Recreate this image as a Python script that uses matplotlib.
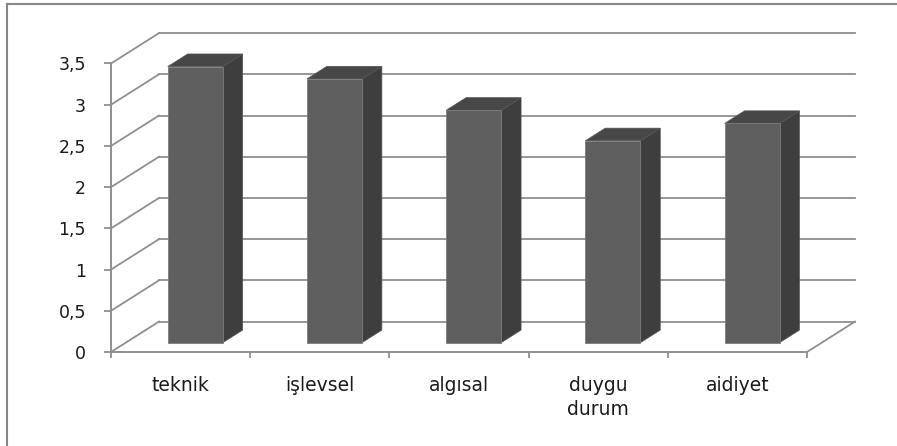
import numpy as np
import matplotlib
matplotlib.use("Agg")
import matplotlib.pyplot as plt
from matplotlib.patches import Polygon
from matplotlib.lines import Line2D

# veriler
categories = ["teknik", "işlevsel", "algısal", "duygu\ndurum", "aidiyet"]
values = [3.35, 3.20, 2.82, 2.45, 2.66]
yticks = [0, 0.5, 1, 1.5, 2, 2.5, 3, 3.5]
ytick_labels = ["0", "0,5", "1", "1,5", "2", "2,5", "3", "3,5"]

# 3B görünüm için eğik izdüşüm (veri birimleri)
DX = 0.345   # derinlik -> x kayması (kategori birimi)
DY = 0.369   # derinlik -> y kayması (değer birimi)
d0, d1 = 0.305, 0.72   # çubuğun ön / arka derinliği
bw = 0.395

grid_col = "#8f8f8f"
front_col = "#5f5f5f"
side_col = "#3e3e3e"
top_col = "#474747"

W, H = 897, 446
fig = plt.figure(figsize=(W / 100, H / 100), dpi=100)
ax = fig.add_axes([111 / W, (H - 352) / H, 696 / W, (352 - 63.5) / H])
n = len(categories)
ax.set_xlim(0, n)
ax.set_ylim(0, 3.5)

# arka duvar ve sol duvar ızgara çizgileri
for v in yticks:
    ax.plot([DX, n + DX], [v + DY, v + DY], color=grid_col, lw=1.3,
            clip_on=False, zorder=1)
    ax.plot([0, DX], [v, v + DY], color=grid_col, lw=1.3,
            clip_on=False, zorder=1)
# zemin sağ kenarı
ax.plot([n, n + DX], [0, DY], color=grid_col, lw=1.3, clip_on=False, zorder=1)

# çubuklar
centers = np.arange(n) + 0.5
ax.bar(centers + d0 * DX, values, width=bw, bottom=d0 * DY, color=front_col,
       edgecolor="#7c7c7c", linewidth=0.6, zorder=4, clip_on=False)
for c, v in zip(centers, values):
    xl = c - bw / 2 + d0 * DX
    xr = c + bw / 2 + d0 * DX
    yb = d0 * DY
    yt = v + d0 * DY
    ddx = (d1 - d0) * DX
    ddy = (d1 - d0) * DY
    side = Polygon([(xr, yb), (xr + ddx, yb + ddy), (xr + ddx, yt + ddy), (xr, yt)],
                   closed=True, facecolor=side_col, edgecolor="#555555",
                   linewidth=0.5, zorder=3, clip_on=False)
    top = Polygon([(xl, yt), (xr, yt), (xr + ddx, yt + ddy), (xl + ddx, yt + ddy)],
                  closed=True, facecolor=top_col, edgecolor="#555555",
                  linewidth=0.5, zorder=3, clip_on=False)
    ax.add_patch(side)
    ax.add_patch(top)

# eksenler
for s in ["top", "right"]:
    ax.spines[s].set_visible(False)
for s in ["left", "bottom"]:
    ax.spines[s].set_color(grid_col)
    ax.spines[s].set_linewidth(1.4)
    ax.spines[s].set_zorder(5)
ax.set_facecolor("none")

ax.set_yticks(yticks)
ax.set_yticklabels(ytick_labels)
ax.tick_params(axis="y", length=5, width=1.3, color=grid_col, pad=13,
               labelsize=12.5, labelcolor="#1a1a1a")

ax.set_xticks(np.arange(n + 1))
ax.set_xticklabels([])
ax.tick_params(axis="x", which="major", length=4, width=1.3, color=grid_col)
ax.set_xticks(centers, minor=True)
ax.set_xticklabels(categories, minor=True, linespacing=1.3)
ax.tick_params(axis="x", which="minor", length=0, pad=17.5, labelsize=13.5,
               labelcolor="#1a1a1a")

# dış çerçeve (üst ve sol)
fig.add_artist(Line2D([7 / W, 7 / W], [0, 1 - 4 / H], color="#888888", lw=1.5))
fig.add_artist(Line2D([7 / W, 1], [1 - 4 / H, 1 - 4 / H], color="#888888", lw=1.5))

fig.savefig("out.png", dpi=100, facecolor="white")
